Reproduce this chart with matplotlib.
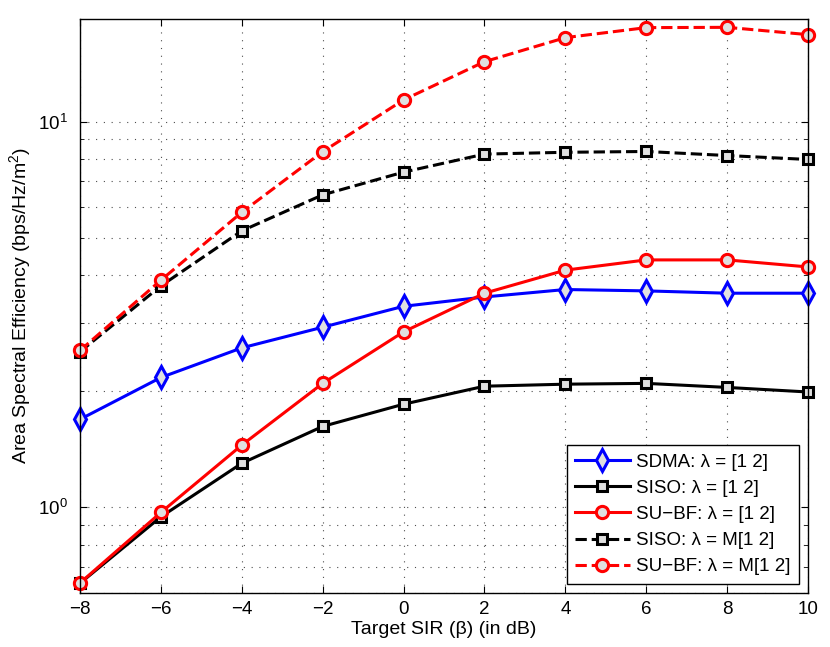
import numpy as np
import matplotlib
matplotlib.use("Agg")
import matplotlib.pyplot as plt
from matplotlib.ticker import LogLocator, NullFormatter

plt.rcParams['font.family'] = ['Liberation Sans', 'DejaVu Sans']
plt.rcParams['mathtext.fontset'] = 'custom'
plt.rcParams['mathtext.rm'] = 'Liberation Sans'

# target SIR in dB
sir_db = [-8, -6, -4, -2, 0, 2, 4, 6, 8, 10]

# area spectral efficiency
sdma = [1.69, 2.17, 2.59, 2.93, 3.32, 3.51, 3.67, 3.64, 3.59, 3.59]
siso = [0.635, 0.944, 1.30, 1.62, 1.85, 2.06, 2.085, 2.095, 2.045, 1.99]
subf = [0.636, 0.969, 1.449, 2.095, 2.85, 3.59, 4.12, 4.38, 4.38, 4.20]
siso_m = [2.53, 3.75, 5.21, 6.46, 7.40, 8.24, 8.33, 8.37, 8.17, 7.98]
subf_m = [2.55, 3.88, 5.82, 8.36, 11.39, 14.31, 16.52, 17.54, 17.57, 16.82]

labels = ["SDMA: λ = [1 2]", "SISO: λ = [1 2]", "SU\u2212BF: λ = [1 2]",
          "SISO: λ = M[1 2]", "SU\u2212BF: λ = M[1 2]"]

fig = plt.figure(figsize=(8.3, 6.47), dpi=100)
ax = fig.add_axes([0.0964, 0.0839, 0.8771, 0.8872])

face = "#e0e0e0"
kw = dict(linewidth=2.2, markeredgewidth=2.2, markerfacecolor=face, clip_on=False)

ax.plot(sir_db, sdma, "-", color="blue", marker="d", markersize=11,
        label=labels[0], **kw)
ax.plot(sir_db, siso, "-", color="black", marker="s", markersize=7,
        label=labels[1], **kw)
ax.plot(sir_db, subf, "-", color="red", marker="o", markersize=8.8,
        label=labels[2], **kw)
ax.plot(sir_db, siso_m, "--", color="black", marker="s", markersize=7,
        label=labels[3], **kw)
ax.plot(sir_db, subf_m, "--", color="red", marker="o", markersize=8.8,
        label=labels[4], **kw)

ax.set_yscale("log")
ax.set_xlim(-8, 10)
ax.set_ylim(0.6, 18.5)
ax.set_xticks(np.arange(-8, 11, 2))
ax.set_xticklabels([str(v).replace("-", "\u2212") for v in range(-8, 11, 2)])
ax.yaxis.set_major_locator(LogLocator(base=10))
ax.yaxis.set_minor_locator(LogLocator(base=10, subs=np.arange(2, 10)))
ax.yaxis.set_minor_formatter(NullFormatter())

ax.tick_params(which="both", direction="in", top=True, right=True, labelsize=13.5)
ax.tick_params(which="major", length=5)
ax.tick_params(which="minor", length=3)
ax.tick_params(axis="x", pad=6)
ax.tick_params(axis="y", pad=9)
for sp in ax.spines.values():
    sp.set_linewidth(1.0)

grid_style = dict(linestyle=(0, (1, 6)), color="0.3", linewidth=0.8)
ax.grid(True, which="major", **grid_style)
ax.grid(True, which="minor", axis="y", **grid_style)

ax.set_xlabel("Target SIR (β) (in dB)", fontsize=14, labelpad=2)
ax.set_ylabel("Area Spectral Efficiency (bps/Hz/m$^2$)", fontsize=14, labelpad=3)

leg = ax.legend(loc="lower right", fontsize=13.5, fancybox=False, framealpha=1,
                edgecolor="black", borderpad=0.45, labelspacing=0.48,
                handlelength=2.9, handletextpad=0.35, borderaxespad=0.48)
leg.get_frame().set_linewidth(1.0)

fig.savefig("out.png", dpi=100)
